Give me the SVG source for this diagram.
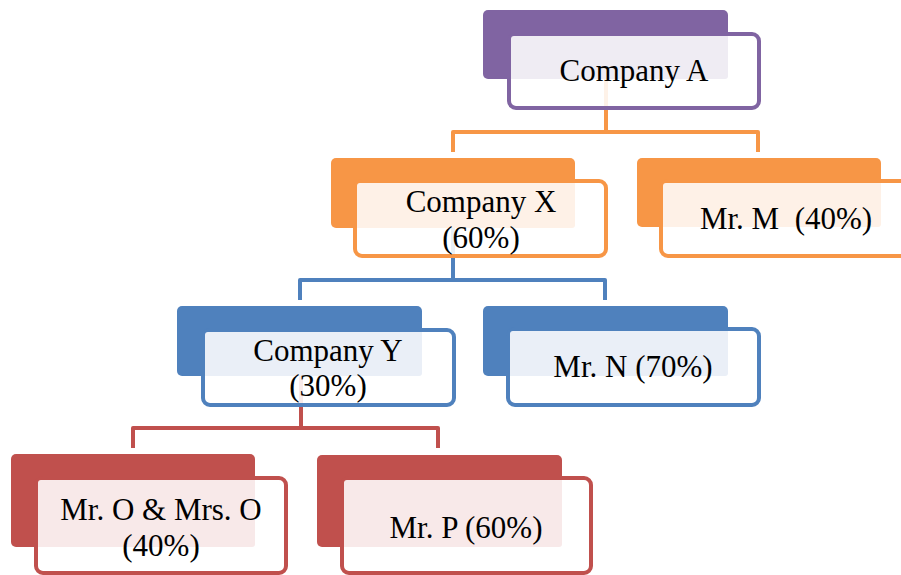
<svg xmlns="http://www.w3.org/2000/svg" width="901" height="575" viewBox="0 0 901 575">
<style>
.t{font-family:"Liberation Serif","Times New Roman",serif;font-size:31px;fill:#000;text-anchor:middle}
.front{fill:#fff;fill-opacity:0.88;stroke-width:4}
.conn{fill:none;stroke-width:4;stroke-linejoin:round}
.pu .back{fill:#8064A2}.pu .front{stroke:#8064A2}.pu .tint{fill:#EFECF3}
.or .back{fill:#F79646}.or .front{stroke:#F79646}.or .tint{fill:#FEF1E7}
.bl .back{fill:#4F81BD}.bl .front{stroke:#4F81BD}.bl .tint{fill:#EAEFF7}
.rd .back{fill:#C0504D}.rd .front{stroke:#C0504D}.rd .tint{fill:#F8E9E9}
</style>
<rect width="901" height="575" fill="#fff"/>
<g id="connectors">
<path class="conn" stroke="#F79646" d="M606 79 V132 M453 152 V132 H758 V152"/>
<path class="conn" stroke="#4F81BD" d="M453 228 V280 M300 300 V280 H605 V300"/>
<path class="conn" stroke="#C0504D" d="M301 376 V428 M133 448 V428 H438 V448"/>
</g>
<g id="companyA" class="pu">
<rect class="back" x="483" y="10" width="245" height="69" rx="5"/>
<rect class="front" x="509" y="34" width="250" height="74" rx="7"/>
<rect class="tint" x="511" y="36" width="217" height="43" rx="3"/>
<text class="t" x="634" y="81">Company A</text>
</g>
<g id="companyX" class="or">
<rect class="back" x="331" y="158" width="244" height="70" rx="5"/>
<rect class="front" x="355" y="181" width="251" height="75" rx="7"/>
<rect class="tint" x="357" y="183" width="218" height="45" rx="3"/>
<text class="t" x="481" y="212">Company X</text>
<text class="t" x="481" y="248">(60%)</text>
</g>
<g id="mrM" class="or">
<rect class="back" x="637" y="158" width="244" height="69" rx="5"/>
<rect class="front" x="661" y="181" width="251" height="75" rx="7"/>
<rect class="tint" x="663" y="183" width="218" height="44" rx="3"/>
<text class="t" x="786" y="229" xml:space="preserve">Mr. M  (40%)</text>
</g>
<g id="companyY" class="bl">
<rect class="back" x="177" y="306" width="245" height="70" rx="5"/>
<rect class="front" x="203" y="330" width="251" height="75" rx="7"/>
<rect class="tint" x="205" y="332" width="217" height="44" rx="3"/>
<text class="t" x="328" y="361">Company Y</text>
<text class="t" x="328" y="396">(30%)</text>
</g>
<g id="mrN" class="bl">
<rect class="back" x="483" y="306" width="245" height="70" rx="5"/>
<rect class="front" x="508" y="329" width="251" height="76" rx="7"/>
<rect class="tint" x="510" y="331" width="218" height="45" rx="3"/>
<text class="t" x="633" y="377">Mr. N (70%)</text>
</g>
<g id="mrO" class="rd">
<rect class="back" x="11" y="454" width="244" height="93" rx="5"/>
<rect class="front" x="36" y="478" width="250" height="95" rx="7"/>
<rect class="tint" x="38" y="480" width="217" height="67" rx="3"/>
<text class="t" x="161" y="520">Mr. O &amp; Mrs. O</text>
<text class="t" x="161" y="556">(40%)</text>
</g>
<g id="mrP" class="rd">
<rect class="back" x="317" y="455" width="245" height="92" rx="5"/>
<rect class="front" x="342" y="478" width="249" height="95" rx="7"/>
<rect class="tint" x="344" y="480" width="218" height="67" rx="3"/>
<text class="t" x="466" y="538">Mr. P (60%)</text>
</g>
</svg>
